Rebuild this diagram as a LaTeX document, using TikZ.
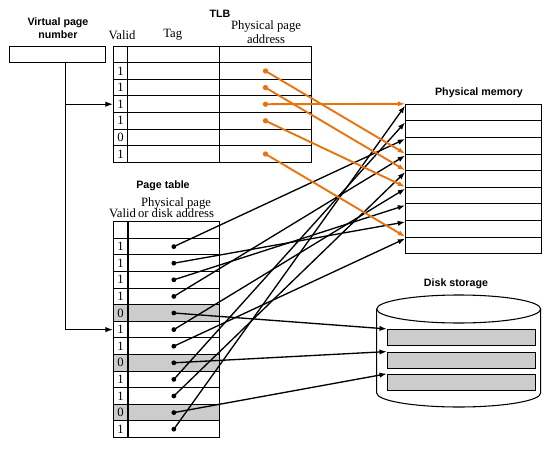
\documentclass[tikz,border=0pt]{standalone}
\usepackage{fontspec}
\setmainfont{Liberation Serif}
\newfontfamily\headfont{Liberation Sans}
\usetikzlibrary{arrows.meta}
\definecolor{tlborange}{RGB}{232,114,12}
\definecolor{diskgray}{RGB}{204,204,204}

\begin{document}
\begin{tikzpicture}[x=0.75pt, y=-0.75pt,
    cell/.style={draw, line width=0.75pt, inner sep=0pt, minimum height=12.45pt, font=\fontsize{9.5}{11}\selectfont},
    heading/.style={font=\headfont\bfseries\fontsize{8}{9.75}\selectfont, align=center, inner sep=0pt},
    colhead/.style={font=\fontsize{9.5}{10}\selectfont, align=center, inner sep=0pt},
    link/.style={-{Latex[length=5.5pt,width=4pt]}, line width=1pt},
    tlblink/.style={link, draw=tlborange, line width=1.4pt}
]
\useasboundingbox (0,0) rectangle (552,449);

% virtual page number
\node[heading] (vpnlabel) at (58,27.8) {Virtual page\\number};
\node[draw, line width=0.75pt, minimum width=71.8pt, minimum height=12pt, inner sep=0pt] (vpn) at (57.85,54.7) {};

% TLB
\node[heading] (tlblabel) at (220,14) {TLB};
\node[colhead] (tlbvalid) at (122,35) {Valid};
\node[colhead] (tlbtag) at (172.7,35) {Tag};
\node[colhead] (tlbphys) at (266,32.3) {Physical page\\address};
\foreach \v [count=\i from 0] in {{},1,1,1,1,0,1} {
  \node[cell, minimum width=10.8pt] (tv\i) at (120.5,54.4+16.6*\i) {\v};
  \node[cell, minimum width=68.7pt] (tt\i) at (173.5,54.4+16.6*\i) {};
  \node[cell, minimum width=69.3pt] (tp\i) at (265.5,54.4+16.6*\i) {};
}

% page table
\node[heading] (ptlabel) at (163,185.7) {Page table};
\node[colhead, font=\fontsize{9.5}{8.7}\selectfont] (ptphys) at (176,207.5) {Physical page\\or disk address};
\node[colhead] (ptvalid) at (122.5,213.3) {Valid};
\foreach \v/\f [count=\i from 0] in {{}/white,1/white,1/white,1/white,1/white,0/diskgray,1/white,1/white,0/diskgray,1/white,1/white,0/diskgray,1/white} {
  \node[cell, fill=\f, minimum width=10.8pt] (pv\i) at (120.5,230+16.6*\i) {\v};
  \node[cell, fill=\f, minimum width=69.2pt] (pa\i) at (173.85,230+16.6*\i) {};
}
\draw[line width=1.4pt] (pv0.north east) -- (pv12.south east);

% physical memory
\node[heading] (memlabel) at (479,92.3) {Physical memory};
\foreach \j in {1,...,9}
  \node[cell, minimum width=101.7pt] (mem\j) at (473.4,96+16.6*\j) {};

% disk storage
\node[heading] (disklabel) at (456,284) {Disk storage};
\draw[line width=0.8pt] (376.7,309) -- (376.7,393) arc[start angle=180, end angle=360, x radius=61.5pt, y radius=10.5pt] -- (540.7,309);
\draw[line width=0.8pt] (458.7,309) ellipse[x radius=61.5pt, y radius=10.5pt];
\foreach \y [count=\j] in {337.6,360.3,382.5}
  \node[cell, fill=diskgray, minimum width=111.3pt, minimum height=12.3pt] (disk\j) at (461.5,\y) {};

% virtual page number bus
\coordinate (vbus) at (65.7,62.7);
\draw[link, line width=0.75pt] (vbus) |- (pv6.west);
\draw[link, line width=0.75pt] (vbus |- tv3.west) -- (tv3.west);

% page table entries
\foreach \r/\m in {1/3,2/8,3/7,4/4,6/6,7/9,9/2,10/5,12/1} {
  \fill (pa\r.center) circle (1.8pt);
  \draw[link] (pa\r.center) -- ([yshift=-1.5pt]mem\m.north west);
}
\foreach \r/\d in {5/1,8/2,11/3} {
  \fill (pa\r.center) circle (1.8pt);
  \draw[link] (pa\r.center) -- (disk\d.north west);
}

% TLB entries
\foreach \r/\m in {1/4,2/5,3/1,4/6,6/9} {
  \fill[tlborange] (tp\r.center) circle (2pt);
  \draw[tlblink] (tp\r.center) -- (mem\m.north west);
}
\end{tikzpicture}
\end{document}
